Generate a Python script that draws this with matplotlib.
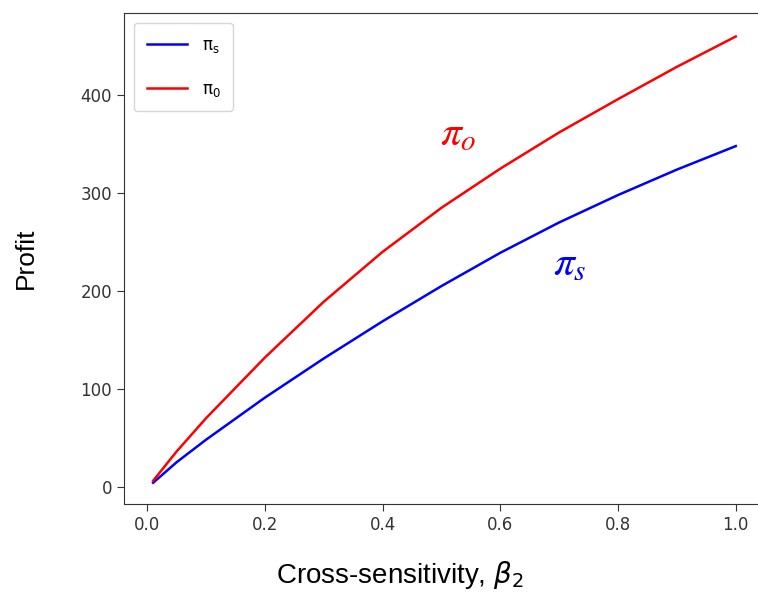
import matplotlib.pyplot as plt

# values
beta = [0.01, 0.05, 0.1, 0.2, 0.3, 0.4, 0.5, 0.6, 0.7, 0.8, 0.9, 1.0]
profit_s = [4, 25, 48, 91, 131, 169, 205, 239, 270, 298, 324, 348]
profit_o = [6, 36, 70, 132, 189, 240, 285, 325, 362, 396, 429, 460]

fig = plt.figure(figsize=(7.58, 5.94), dpi=100)
ax = fig.add_axes([0.1636, 0.1515, 0.8455, 0.8266])

ax.plot(beta, profit_s, color="blue", lw=1.8, label=r"$\mathregular{\pi_s}$")
ax.plot(beta, profit_o, color="red", lw=1.8, label=r"$\mathregular{\pi_0}$")

ax.set_xlim(-0.0395, 1.0495)
ax.set_ylim(-17.75, 484)
ax.set_xticks([0.0, 0.2, 0.4, 0.6, 0.8, 1.0])
ax.set_yticks([0, 100, 200, 300, 400])
ax.tick_params(labelsize=12, colors="#333333", length=5)
for s in ax.spines.values():
    s.set_color("#333333")

ax.set_xlabel(r"Cross-sensitivity, $\beta_2$", fontsize=20, family="Liberation Sans")
ax.xaxis.set_label_coords(0.43, -0.113)
ax.set_ylabel("Profit", fontsize=19, family="Liberation Sans")
ax.yaxis.set_label_coords(-0.135, 0.5)

ax.text(0.497, 349, r"$\pi_o$", color="red", fontsize=30, math_fontfamily="stix")
ax.text(0.689, 216, r"$\pi_s$", color="blue", fontsize=30, math_fontfamily="stix")

ax.legend(loc="upper left", fontsize=12, handlelength=2.4, labelspacing=1.5,
          borderpad=0.75, handletextpad=0.9, borderaxespad=0.6)

fig.savefig("out.png")
